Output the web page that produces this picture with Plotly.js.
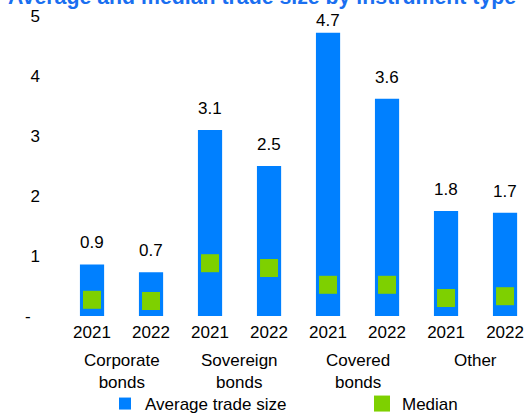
<!DOCTYPE html>
<html>
<head>
<meta charset="utf-8">
<script src="https://cdn.plot.ly/plotly-3.0.1.min.js"></script>
<style>html,body{margin:0;padding:0;background:#fff}#chart{width:531px;height:415px}</style>
</head>
<body>
<div id="chart"></div>
<script>
const chartTitle = "Average and median trade size by instrument type";
const groups = ["Corporate<br>bonds", "Sovereign<br>bonds", "Covered<br>bonds", "Other"];
const years = ["2021", "2022", "2021", "2022", "2021", "2022", "2021", "2022"];
const avgTradeSize = [0.86, 0.73, 3.1, 2.5, 4.72, 3.62, 1.75, 1.72];
const avgLabels = ["0.9", "0.7", "3.1", "2.5", "4.7", "3.6", "1.8", "1.7"];
const median = [0.27, 0.25, 0.88, 0.80, 0.52, 0.52, 0.30, 0.33];
const yTickVals = [0, 1, 2, 3, 4, 5];
const yTickText = ["-\u00a0\u00a0", "1", "2", "3", "4", "5"];

const xPos = years.map((_, i) => i);
const groupPos = groups.map((_, g) => g * 2 + 0.5);
const FONT = "Liberation Sans, Arial, sans-serif";
const Y_MAX = 5.1;
const PX_PER_UNIT = 306 / Y_MAX;

const traces = [
  {
    type: "bar", name: "Average trade size", x: xPos, y: avgTradeSize,
    marker: {color: "#0080ff"}, width: 0.41, hoverinfo: "none",
    legend: "legend"
  },
  {
    type: "scatter", mode: "markers", name: "Median", x: xPos, y: median,
    marker: {symbol: "square", size: 18, color: "#7ed000"},
    cliponaxis: false, hoverinfo: "none", legend: "legend2"
  }
];

const titleAnnotation = {
  x: (262 - 45) / 486, xref: "paper", xanchor: "center",
  y: 1, yref: "paper", yanchor: "bottom", yshift: -1,
  text: "<b>" + chartTitle + "</b>", showarrow: false,
  font: {family: FONT, size: 21.3, color: "#1a6ff0"}
};

const groupAnnotations = groups.map((g, i) => ({
  x: groupPos[i], xref: "x", y: 0, yref: "paper",
  yshift: -33, yanchor: "top", text: g, showarrow: false,
  font: {family: FONT, size: 17, color: "#000"}, align: "center"
}));

const valueAnnotations = avgTradeSize.map((v, i) => ({
  x: xPos[i], xref: "x", y: v, yref: "y", yanchor: "bottom",
  yshift: Math.min(10, (Y_MAX - v) * PX_PER_UNIT - 22),
  text: avgLabels[i], showarrow: false,
  font: {family: FONT, size: 17, color: "#000"}
}));

const legendBase = {
  orientation: "h", xref: "container", yref: "container",
  xanchor: "left", y: 11 / 415, yanchor: "middle",
  font: {family: FONT, size: 17, color: "#000"},
  itemwidth: 30, bgcolor: "rgba(0,0,0,0)"
};

const layout = {
  width: 531, height: 415,
  margin: {l: 45, r: 0, t: 10, b: 99},
  paper_bgcolor: "#fff", plot_bgcolor: "#fff",
  font: {family: FONT, size: 17, color: "#000"},
  xaxis: {
    range: [-0.797, 7.44], tickvals: xPos, ticktext: years,
    showgrid: false, zeroline: false, showline: false, ticks: "",
    ticklabelstandoff: 4,
    tickfont: {family: FONT, size: 17, color: "#000"}, fixedrange: true
  },
  yaxis: {
    range: [0, Y_MAX], tickvals: yTickVals, ticktext: yTickText,
    showgrid: false, zeroline: false, showline: false, ticks: "",
    ticklabelstandoff: 4,
    tickfont: {family: FONT, size: 17, color: "#000"}, fixedrange: true
  },
  showlegend: true,
  legend: Object.assign({}, legendBase, {x: 105 / 531}),
  legend2: Object.assign({}, legendBase, {x: 362 / 531}),
  annotations: [titleAnnotation].concat(groupAnnotations, valueAnnotations)
};

Plotly.newPlot("chart", traces, layout, {displayModeBar: false, staticPlot: true});
</script>
</body>
</html>
